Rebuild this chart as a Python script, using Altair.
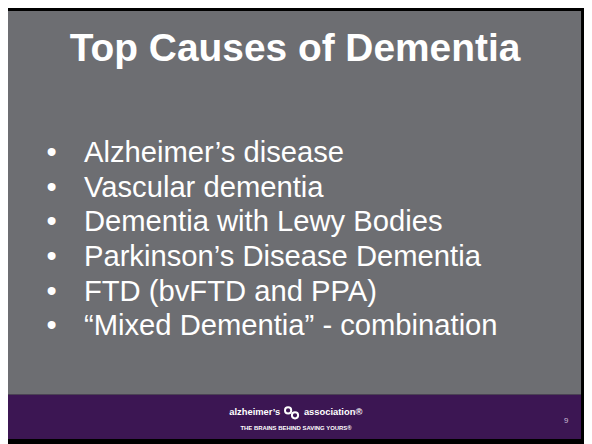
import altair as alt
import pandas as pd

# ---- content ----
title_text = ["Top Causes of Dementia"]
causes = [
    "Alzheimer\u2019s disease",
    "Vascular dementia",
    "Dementia with Lewy Bodies",
    "Parkinson\u2019s Disease Dementia",
    "FTD (bvFTD and PPA)",
    "\u201cMixed Dementia\u201d - combination",
]
brand_left = ["alzheimer\u2019s"]
brand_right = ["association\u00ae"]
tagline = ["THE BRAINS BEHIND SAVING YOURS\u00ae"]
page_number = ["9"]

W, H = 584, 436
FONT = "Liberation Sans"
GRAY = "#6d6e72"
PURPLE = "#3c1653"

one = alt.Data(values=[{}])

bg_gray = alt.Chart(one).mark_rect(color=GRAY).encode(
    x=alt.value(0), x2=alt.value(581), y=alt.value(0), y2=alt.value(389)
)
bg_purple = alt.Chart(one).mark_rect(color=PURPLE).encode(
    x=alt.value(0), x2=alt.value(581), y=alt.value(389), y2=alt.value(434)
)

title = alt.Chart(pd.DataFrame({"t": title_text})).mark_text(
    font=FONT, fontSize=39.4, fontWeight="bold", color="white",
    align="center", baseline="alphabetic"
).encode(text="t:N", x=alt.value(291), y=alt.value(51))

df = pd.DataFrame({"cause": causes, "dot": ["\u2022"] * len(causes)})
yenc = alt.Y("cause:N", sort=causes, axis=None,
             scale=alt.Scale(type="point", range=[153, 329], padding=0))

bullets = alt.Chart(df).mark_text(
    font=FONT, fontSize=29.5, color="white", align="left", baseline="alphabetic"
).encode(text="dot:N", x=alt.value(39), y=yenc)

items = alt.Chart(df).mark_text(
    font=FONT, fontSize=29.6, color="white", align="left", baseline="alphabetic"
).encode(text="cause:N", x=alt.value(77), y=yenc)

b_left = alt.Chart(pd.DataFrame({"t": brand_left})).mark_text(
    font=FONT, fontSize=9.5, fontWeight="bold", color="white",
    align="right", baseline="alphabetic"
).encode(text="t:N", x=alt.value(276), y=alt.value(410))

b_right = alt.Chart(pd.DataFrame({"t": brand_right})).mark_text(
    font=FONT, fontSize=9.5, fontWeight="bold", color="white",
    align="left", baseline="alphabetic"
).encode(text="t:N", x=alt.value(300), y=alt.value(410))

logo_a = alt.Chart(one).mark_point(
    shape="circle", size=40, filled=False, color="white", strokeWidth=2, opacity=1
).encode(x=alt.value(284), y=alt.value(405))
logo_b = alt.Chart(one).mark_point(
    shape="circle", size=40, filled=False, color="white", strokeWidth=2, opacity=1
).encode(x=alt.value(291), y=alt.value(410))

tag = alt.Chart(pd.DataFrame({"t": tagline})).mark_text(
    font=FONT, fontSize=6, fontWeight="bold", color="white",
    align="center", baseline="alphabetic"
).encode(text="t:N", x=alt.value(292), y=alt.value(425))

page = alt.Chart(pd.DataFrame({"t": page_number})).mark_text(
    font=FONT, fontSize=8, color="#c9bcd6", align="center", baseline="middle"
).encode(text="t:N", x=alt.value(566), y=alt.value(416))

chart = alt.layer(
    bg_gray, bg_purple, title, bullets, items, b_left, b_right, logo_a, logo_b, tag, page
).properties(
    width=W, height=H, autosize=alt.AutoSizeParams(type="none"), padding=0
).configure(background="#000000").configure_view(stroke=None)

chart.save("out.html", embed_options={"renderer": "svg", "actions": False})
